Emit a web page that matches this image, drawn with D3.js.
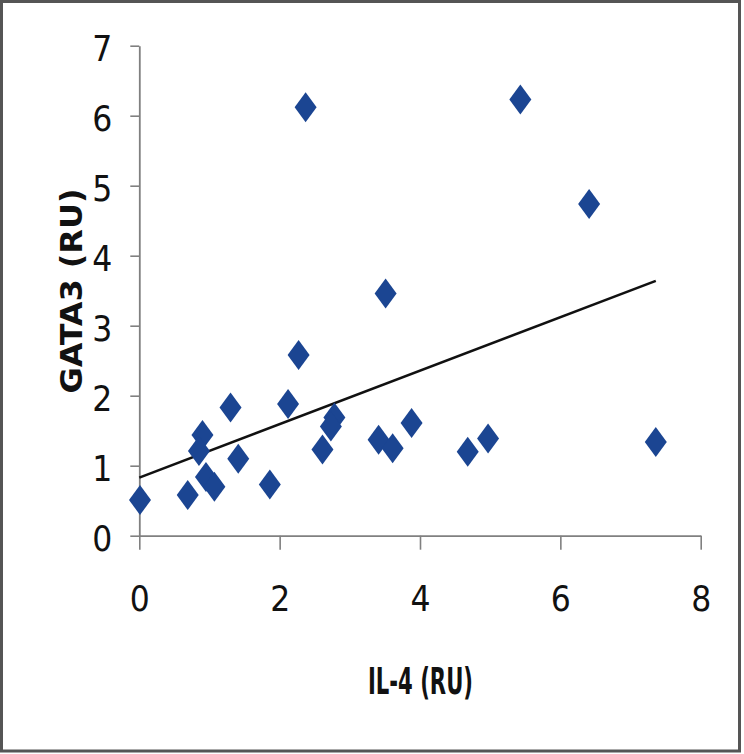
<!DOCTYPE html>
<html>
<head>
<meta charset="utf-8">
<script src="https://cdn.jsdelivr.net/npm/d3@7"></script>
<style>
  body { margin: 0; background: #fff; }
  svg { display: block; }
  .tick text { font-family: "DejaVu Sans Condensed", "DejaVu Sans", sans-serif; font-stretch: condensed; font-size: 35px; fill: #111; }
  .axis-title { font-family: "DejaVu Sans Condensed", "DejaVu Sans", sans-serif; font-stretch: condensed; font-weight: bold; fill: #111; }
</style>
</head>
<body>
<svg width="744" height="754"></svg>
<script>
// IL-4 (RU) vs GATA3 (RU)
var il4 = [0.01, 0.69, 0.90, 0.85, 0.95, 1.07, 1.30, 1.41, 1.86, 2.12, 2.27, 2.37,
           2.61, 2.78, 2.73, 3.51, 3.41, 3.61, 3.88, 4.68, 4.97, 5.43, 6.41, 7.36];
var gata3 = [0.51, 0.58, 1.44, 1.21, 0.84, 0.70, 1.83, 1.10, 0.73, 1.88, 2.58, 6.12,
             1.23, 1.69, 1.56, 3.46, 1.37, 1.25, 1.61, 1.20, 1.39, 6.23, 4.74, 1.34];

// linear trend line end points
var trendX = [0, 7.36];
var trendY = [0.83, 3.64];

var xTicks = [0, 2, 4, 6, 8];
var yTicks = [0, 1, 2, 3, 4, 5, 6, 7];

var svg = d3.select('svg');

// outer frame
svg.append('rect')
    .attr('x', 1.5).attr('y', 1.5)
    .attr('width', 738).attr('height', 749.5)
    .attr('fill', 'none')
    .attr('stroke', '#555')
    .attr('stroke-width', 3);

var xScale = d3.scaleLinear().domain([0, 8]).range([139.3, 700.7]);
var yScale = d3.scaleLinear().domain([0, 7]).range([535.7, 45.7]);

// x axis
var xAxis = svg.append('g')
    .attr('transform', 'translate(0,' + yScale(0) + ')')
    .call(d3.axisBottom(xScale).tickValues(xTicks).tickFormat(d3.format('d'))
        .tickSize(14).tickPadding(54).tickSizeOuter(0));

// y axis
var yAxis = svg.append('g')
    .attr('transform', 'translate(' + xScale(0) + ',0)')
    .call(d3.axisLeft(yScale).tickValues(yTicks).tickFormat(d3.format('d'))
        .tickSize(9).tickPadding(18).tickSizeOuter(0));

[xAxis, yAxis].forEach(function (g) {
    g.selectAll('.domain, .tick line').attr('stroke', '#808080').attr('stroke-width', 1.6);
    g.select('.domain').attr('stroke-width', 1.8);
});
xAxis.selectAll('.tick text').attr('dy', '0.2em');
yAxis.selectAll('.tick text').attr('dy', '0.42em');

// trend line
svg.append('line')
    .attr('x1', xScale(trendX[0])).attr('y1', yScale(trendY[0]))
    .attr('x2', xScale(trendX[1])).attr('y2', yScale(trendY[1]))
    .attr('stroke', '#111')
    .attr('stroke-width', 2.6);

// diamond markers
var points = il4.map(function (x, i) { return { x: x, y: gata3[i] }; });
svg.append('g').selectAll('path')
    .data(points)
    .enter()
    .append('path')
    .attr('d', 'M0,-15L11,0L0,15L-11,0Z')
    .attr('transform', d => 'translate(' + xScale(d.x) + ',' + yScale(d.y) + ')')
    .attr('fill', '#1b4592');

// axis titles
svg.append('text')
    .attr('class', 'axis-title')
    .attr('x', 420.5).attr('y', 694)
    .attr('text-anchor', 'middle')
    .attr('font-size', 38)
    .attr('textLength', 105)
    .attr('lengthAdjust', 'spacingAndGlyphs')
    .text('IL-4 (RU)');

svg.append('text')
    .attr('class', 'axis-title')
    .attr('transform', 'translate(82,291) rotate(-90)')
    .attr('text-anchor', 'middle')
    .attr('font-size', 31)
    .attr('textLength', 205)
    .attr('lengthAdjust', 'spacingAndGlyphs')
    .text('GATA3 (RU)');
</script>
</body>
</html>
